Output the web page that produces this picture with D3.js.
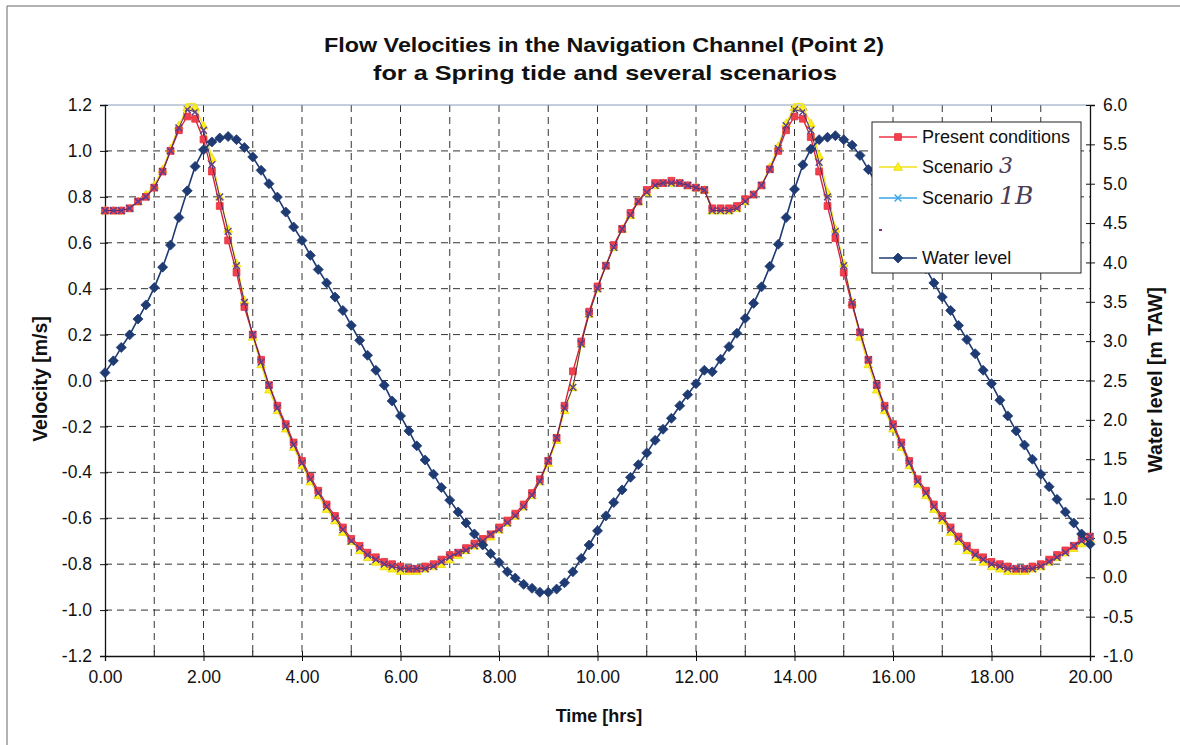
<!DOCTYPE html>
<html>
<head>
<meta charset="utf-8">
<script src="https://cdn.jsdelivr.net/npm/d3@7/dist/d3.min.js"></script>
<style>
  body { margin: 0; background: #fff; }
  svg text { font-family: "Liberation Sans", Arial, sans-serif; fill: #111; }
</style>
</head>
<body>
<div id="chart"></div>
<script>
// time in hours (10 minute steps)
const timeHrs = [0.00,0.17,0.33,0.50,0.67,0.83,1.00,1.17,1.33,1.50,1.67,1.83,2.00,2.17,2.33,2.50,2.67,2.83,3.00,3.17,3.33,3.50,3.67,3.83,4.00,4.17,4.33,4.50,4.67,4.83,5.00,5.17,5.33,5.50,5.67,5.83,6.00,6.17,6.33,6.50,6.67,6.83,7.00,7.17,7.33,7.50,7.67,7.83,8.00,8.17,8.33,8.50,8.67,8.83,9.00,9.17,9.33,9.50,9.67,9.83,10.00,10.17,10.33,10.50,10.67,10.83,11.00,11.17,11.33,11.50,11.67,11.83,12.00,12.17,12.33,12.50,12.67,12.83,13.00,13.17,13.33,13.50,13.67,13.83,14.00,14.17,14.33,14.50,14.67,14.83,15.00,15.17,15.33,15.50,15.67,15.83,16.00,16.17,16.33,16.50,16.67,16.83,17.00,17.17,17.33,17.50,17.67,17.83,18.00,18.17,18.33,18.50,18.67,18.83,19.00,19.17,19.33,19.50,19.67,19.83,20.00];

// velocity [m/s]
const presentConditions = [
  0.74,0.74,0.74,0.75,0.78,0.80,0.84,0.91,1.00,1.09,1.15,1.14,
  1.05,0.91,0.76,0.61,0.47,0.32,0.20,0.09,-0.02,-0.11,-0.19,-0.27,
  -0.35,-0.42,-0.48,-0.54,-0.59,-0.64,-0.69,-0.72,-0.75,-0.77,-0.79,-0.80,
  -0.81,-0.82,-0.82,-0.81,-0.80,-0.78,-0.76,-0.75,-0.73,-0.71,-0.69,-0.67,
  -0.64,-0.61,-0.58,-0.54,-0.49,-0.43,-0.35,-0.25,-0.11,0.04,0.17,0.30,
  0.41,0.50,0.59,0.66,0.73,0.78,0.83,0.86,0.86,0.87,0.86,0.85,
  0.84,0.83,0.75,0.75,0.75,0.76,0.79,0.81,0.85,0.92,1.00,1.09,
  1.15,1.14,1.06,0.91,0.76,0.62,0.47,0.33,0.21,0.09,-0.02,-0.11,
  -0.19,-0.27,-0.35,-0.43,-0.48,-0.54,-0.59,-0.64,-0.68,-0.72,-0.75,-0.77,
  -0.79,-0.80,-0.81,-0.82,-0.82,-0.81,-0.80,-0.78,-0.76,-0.74,-0.72,-0.69,-0.68
];
const scenario3 = [
  0.74,0.74,0.74,0.75,0.78,0.81,0.85,0.92,1.01,1.11,1.19,1.19,
  1.11,0.97,0.80,0.66,0.51,0.35,0.19,0.07,-0.04,-0.13,-0.21,-0.29,
  -0.37,-0.44,-0.50,-0.56,-0.61,-0.66,-0.70,-0.74,-0.77,-0.79,-0.81,-0.82,
  -0.83,-0.83,-0.83,-0.82,-0.81,-0.80,-0.78,-0.76,-0.74,-0.72,-0.70,-0.68,
  -0.65,-0.62,-0.59,-0.55,-0.50,-0.44,-0.36,-0.26,-0.13,-0.03,0.16,0.29,
  0.40,0.50,0.58,0.66,0.72,0.78,0.82,0.85,0.86,0.86,0.86,0.85,
  0.84,0.83,0.74,0.74,0.74,0.75,0.78,0.81,0.85,0.93,1.02,1.12,
  1.19,1.19,1.12,0.98,0.82,0.66,0.51,0.34,0.19,0.07,-0.04,-0.13,
  -0.21,-0.29,-0.37,-0.45,-0.50,-0.56,-0.61,-0.66,-0.70,-0.74,-0.77,-0.79,
  -0.81,-0.82,-0.83,-0.83,-0.83,-0.82,-0.81,-0.79,-0.77,-0.75,-0.73,-0.71,-0.69
];
const scenario1B = [
  0.74,0.74,0.74,0.75,0.78,0.80,0.84,0.91,1.00,1.10,1.18,1.17,
  1.09,0.94,0.80,0.65,0.50,0.34,0.20,0.08,-0.02,-0.12,-0.20,-0.28,
  -0.36,-0.43,-0.49,-0.55,-0.60,-0.65,-0.70,-0.73,-0.76,-0.78,-0.80,-0.81,
  -0.82,-0.82,-0.82,-0.82,-0.81,-0.79,-0.77,-0.75,-0.74,-0.72,-0.70,-0.67,
  -0.65,-0.62,-0.59,-0.55,-0.50,-0.44,-0.35,-0.25,-0.12,-0.03,0.16,0.29,
  0.40,0.50,0.58,0.66,0.72,0.78,0.82,0.85,0.86,0.86,0.86,0.85,
  0.84,0.83,0.74,0.74,0.74,0.75,0.78,0.81,0.85,0.92,1.01,1.11,
  1.18,1.17,1.09,0.95,0.80,0.65,0.50,0.34,0.21,0.09,-0.02,-0.12,
  -0.20,-0.28,-0.36,-0.44,-0.49,-0.55,-0.60,-0.65,-0.69,-0.73,-0.76,-0.78,
  -0.80,-0.81,-0.82,-0.82,-0.82,-0.82,-0.81,-0.79,-0.77,-0.75,-0.72,-0.70,-0.68
];
// water level [m TAW]
const waterLevel = [
  2.60,2.75,2.92,3.08,3.28,3.46,3.68,3.94,4.22,4.57,4.91,5.22,
  5.43,5.53,5.58,5.60,5.56,5.46,5.34,5.17,5.00,4.83,4.64,4.45,
  4.28,4.09,3.91,3.74,3.56,3.39,3.20,3.01,2.82,2.63,2.44,2.24,
  2.05,1.86,1.67,1.49,1.31,1.14,0.98,0.83,0.69,0.55,0.41,0.30,
  0.19,0.07,-0.01,-0.09,-0.14,-0.19,-0.19,-0.15,-0.07,0.07,0.24,0.41,
  0.59,0.78,0.95,1.11,1.27,1.43,1.58,1.74,1.88,2.02,2.18,2.32,
  2.46,2.63,2.61,2.77,2.93,3.10,3.29,3.48,3.69,3.95,4.23,4.57,
  4.93,5.24,5.44,5.56,5.59,5.61,5.56,5.49,5.36,5.18,4.99,4.80,
  4.61,4.43,4.26,4.09,3.92,3.74,3.56,3.39,3.20,3.02,2.84,2.63,
  2.46,2.25,2.05,1.86,1.68,1.50,1.31,1.15,0.99,0.83,0.69,0.55,0.42
];

const xTicks = [0,2,4,6,8,10,12,14,16,18,20];
const xMinorTicks = [1,3,5,7,9,11,13,15,17,19];
const yLeftTicks = [-1.2,-1.0,-0.8,-0.6,-0.4,-0.2,0.0,0.2,0.4,0.6,0.8,1.0,1.2];
const yRightTicks = [-1.0,-0.5,0.0,0.5,1.0,1.5,2.0,2.5,3.0,3.5,4.0,4.5,5.0,5.5,6.0];

const W = 1180, H = 745;
const L = 105, R = 1090, T = 105, B = 656;

const svg = d3.select("#chart").append("svg")
    .attr("width", W)
    .attr("height", H);

// scanned page border
svg.append("line").attr("x1", 7).attr("x2", W).attr("y1", 6).attr("y2", 6)
    .attr("stroke", "#666").attr("stroke-width", 1);
svg.append("line").attr("x1", 7).attr("x2", 7).attr("y1", 6).attr("y2", H)
    .attr("stroke", "#666").attr("stroke-width", 1);

const x = d3.scaleLinear().domain([0, 20]).range([L, R]);
const yV = d3.scaleLinear().domain([-1.2, 1.2]).range([B, T]);
const yW = d3.scaleLinear().domain([-1, 6]).range([B, T]);

// title (scan is slightly stretched horizontally)
svg.append("text").attr("x", 604).attr("y", 52).attr("text-anchor", "middle")
    .attr("textLength", 560).attr("lengthAdjust", "spacingAndGlyphs")
    .style("font-size", "20.5px").style("font-weight", "bold")
    .text("Flow Velocities in the Navigation Channel (Point 2)");
svg.append("text").attr("x", 605).attr("y", 80).attr("text-anchor", "middle")
    .attr("textLength", 464).attr("lengthAdjust", "spacingAndGlyphs")
    .style("font-size", "20.5px").style("font-weight", "bold")
    .text("for a Spring tide and several scenarios");

// grid
const grid = svg.append("g").attr("stroke", "#333").attr("stroke-width", 1)
    .attr("stroke-dasharray", "7,5");
grid.selectAll(".vg").data(xMinorTicks.concat(xTicks.slice(1, -1)))
  .enter().append("line")
    .attr("x1", d => x(d)).attr("x2", d => x(d))
    .attr("y1", T).attr("y2", B);
grid.selectAll(".hg").data(yLeftTicks.slice(1, -1))
  .enter().append("line")
    .attr("x1", L).attr("x2", R)
    .attr("y1", d => yV(d)).attr("y2", d => yV(d));

// plot frame
svg.append("line").attr("x1", L).attr("x2", R).attr("y1", T).attr("y2", T)
    .attr("stroke", "#8a9bb8").attr("stroke-width", 1.2);

// left axis
const axL = svg.append("g").attr("transform", `translate(${L},0)`)
    .call(d3.axisLeft(yV).tickValues(yLeftTicks).tickSize(5).tickPadding(8)
      .tickFormat(d => d.toFixed(1)));
axL.select(".domain").attr("stroke", "#111").attr("stroke-width", 1.3);
axL.selectAll(".tick line").attr("x1", 3).attr("stroke", "#111");
axL.selectAll("text").style("font-size", "17.5px").attr("fill", "#111");

// right axis
const axR = svg.append("g").attr("transform", `translate(${R},0)`)
    .call(d3.axisRight(yW).tickValues(yRightTicks).tickSize(5).tickPadding(8)
      .tickFormat(d => d.toFixed(1)));
axR.select(".domain").attr("stroke", "#111").attr("stroke-width", 1.3);
axR.selectAll(".tick line").attr("x1", -4).attr("stroke", "#111");
axR.selectAll("text").style("font-size", "17.5px").attr("fill", "#111");

// bottom axis
const axB = svg.append("g").attr("transform", `translate(0,${B})`)
    .call(d3.axisBottom(x).tickValues(xTicks).tickSize(5).tickPadding(10)
      .tickFormat(d => d.toFixed(2)));
axB.select(".domain").attr("stroke", "#111").attr("stroke-width", 1.3);
axB.selectAll(".tick line").attr("y1", -5).attr("stroke", "#111");
axB.selectAll("text").style("font-size", "17.5px").attr("fill", "#111");
svg.append("g").selectAll("line").data(xMinorTicks).enter().append("line")
    .attr("x1", d => x(d)).attr("x2", d => x(d))
    .attr("y1", B - 5).attr("y2", B)
    .attr("stroke", "#111");

// axis titles
svg.append("text").attr("x", 599).attr("y", 722).attr("text-anchor", "middle")
    .style("font-size", "18px").style("font-weight", "bold").text("Time [hrs]");
svg.append("text").attr("transform", "translate(47,379) rotate(-90)")
    .attr("text-anchor", "middle")
    .style("font-size", "19.5px").style("font-weight", "bold").text("Velocity [m/s]");
svg.append("text").attr("transform", "translate(1162,380) rotate(-90)")
    .attr("text-anchor", "middle")
    .style("font-size", "19.5px").style("font-weight", "bold").text("Water level [m TAW]");

// marker shapes
const sq = "M-3.4,-3.4H3.4V3.4H-3.4Z";
const tri = "M0,-4.4L4.4,3.3L-4.4,3.3Z";
const cross = "M-3.4,-3.4L3.4,3.4M3.4,-3.4L-3.4,3.4";
const dia = "M0,-5L5,0L0,5L-5,0Z";

const series = [
  {name: "Scenario 3", vals: scenario3, scale: yV, line: "#f2e21a", lw: 1.4,
   shape: tri, fill: "#fff01e", stroke: "#e8d800"},
  {name: "Present conditions", vals: presentConditions, scale: yV, line: "#d82438", lw: 1.4,
   shape: sq, fill: "#f0404c", stroke: "#e83040"},
  {name: "Scenario 1B", vals: scenario1B, scale: yV, line: "#4a2c6a", lw: 1,
   shape: cross, fill: "none", stroke: "#5a3f8e"},
  {name: "Water level", vals: waterLevel, scale: yW, line: "#1e3a72", lw: 1.6,
   shape: dia, fill: "#1f3b74", stroke: "#1f3b74"}
];

series.forEach(s => {
  const pts = timeHrs.map((t, i) => [t, s.vals[i]]);
  const line = d3.line().x(d => x(d[0])).y(d => s.scale(d[1]));
  svg.append("path").datum(pts)
      .attr("d", line)
      .attr("fill", "none")
      .attr("stroke", s.line)
      .attr("stroke-width", s.lw);
  svg.append("g").selectAll("path").data(pts).enter().append("path")
      .attr("transform", d => `translate(${x(d[0])},${s.scale(d[1])})`)
      .attr("d", s.shape)
      .attr("fill", s.fill)
      .attr("stroke", s.stroke)
      .attr("stroke-width", s.shape === cross ? 1.4 : 0.8);
});

// hand drawn circles at the scenario 3 peaks
[[10, 11], [84, 85]].forEach(p => {
  const cx = (x(timeHrs[p[0]]) + x(timeHrs[p[1]])) / 2;
  const cy = yV(d3.max([scenario3[p[0]], scenario3[p[1]]]));
  svg.append("path")
      .attr("d", d3.arc().innerRadius(7).outerRadius(7).startAngle(-2.0).endAngle(2.0)())
      .attr("transform", `translate(${cx},${cy + 3})`)
      .attr("fill", "none").attr("stroke", "#f4e41c").attr("stroke-width", 1.3);
});

// legend
const lg = svg.append("g");
lg.append("rect").attr("x", 872).attr("y", 122).attr("width", 209).attr("height", 151)
    .attr("fill", "#fff").attr("stroke", "#222").attr("stroke-width", 1);
const legendItems = [
  {label: "Present conditions", hand: "", y: 137, line: "#ee3344", shape: sq, fill: "#f0404c", stroke: "#e83040"},
  {label: "Scenario", hand: "3", y: 167, line: "#f2e21a", shape: tri, fill: "#fff01e", stroke: "#e8d800"},
  {label: "Scenario", hand: "1B", y: 198, line: "#3aa6e8", shape: cross, fill: "none", stroke: "#3aa6e8"},
  {label: "Water level", hand: "", y: 258, line: "#1e3a72", shape: dia, fill: "#1f3b74", stroke: "#1f3b74"}
];
legendItems.forEach(it => {
  lg.append("line").attr("x1", 879).attr("x2", 917).attr("y1", it.y).attr("y2", it.y)
      .attr("stroke", it.line).attr("stroke-width", 1.4);
  lg.append("path").attr("transform", `translate(898,${it.y})`).attr("d", it.shape)
      .attr("fill", it.fill).attr("stroke", it.stroke)
      .attr("stroke-width", it.shape === cross ? 1.4 : 0.8);
  const t = lg.append("text").attr("x", 922).attr("y", it.y + 6)
      .style("font-size", "18px").text(it.label);
  if (it.hand) {
    t.append("tspan").attr("dx", 6)
        .style("font-family", "'DejaVu Serif', serif")
        .style("font-style", "italic")
        .style("font-size", it.hand === "1B" ? "25px" : "22px")
        .attr("fill", "#4a3d55")
        .text(it.hand);
  }
});
// empty legend slot remnant
lg.append("line").attr("x1", 879).attr("x2", 882).attr("y1", 230).attr("y2", 230)
    .attr("stroke", "#8a2a8a").attr("stroke-width", 2);
</script>
</body>
</html>
